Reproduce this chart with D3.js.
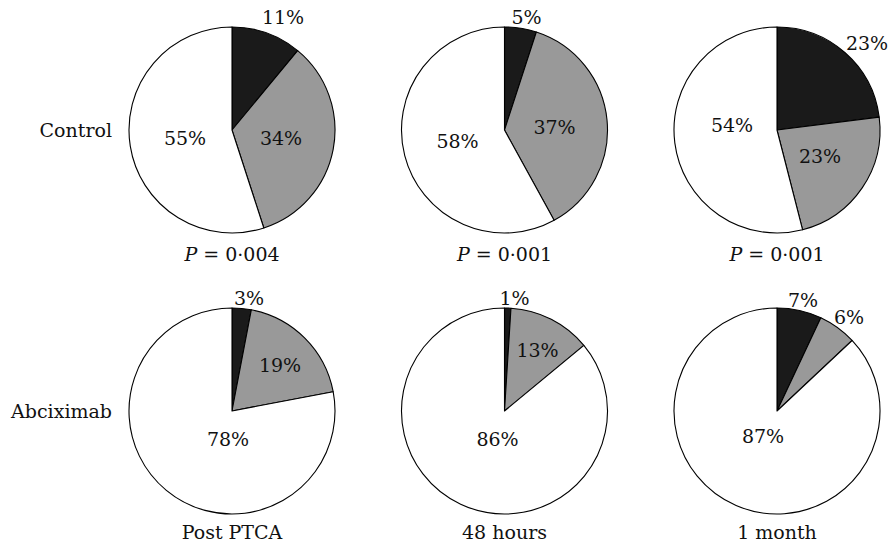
<!DOCTYPE html>
<html>
<head>
<meta charset="utf-8">
<script src="https://cdn.jsdelivr.net/npm/d3@7/dist/d3.min.js"></script>
<style>
  html, body { margin: 0; padding: 0; background: #fff; }
  svg { display: block; }
  text { font-family: "DejaVu Serif", "Liberation Serif", serif; fill: #111; }
</style>
</head>
<body>
<svg id="chart" width="888" height="547"></svg>
<script>
// Groups (rows) and time points (columns)
const groups = ["Control", "Abciximab"];
const timePoints = ["Post PTCA", "48 hours", "1 month"];

// Percentages per panel, clockwise from 12 o'clock: black, grey, white
const controlShares   = [[11, 34, 55], [5, 37, 58], [23, 23, 54]];
const abciximabShares = [[3, 19, 78], [1, 13, 86], [7, 6, 87]];

// P values shown under the control row
const pValues = ["0·004", "0·001", "0·001"];

const sliceColors = ["#1a1a1a", "#999999", "#ffffff"];

// Where each percentage label sits, as an offset (px) from its pie's centre
const labelOffsets = [
  [[[51, -113], [49, 8], [-47, 8]],
   [[22, -113], [50, -3], [-47, 11]],
   [[90, -87], [43, 26], [-45, -5]]],
  [[[17, -113], [48, -46], [-4, 28]],
   [[10, -113], [33, -61], [-7, 28]],
   [[26, -111], [72, -94], [-14, 25]]]
];

const svg = d3.select("#chart");
const fontSize = 19;
const radius = 103;

const x = d3.scalePoint().domain(timePoints).range([232, 777]);
const y = d3.scalePoint().domain(groups).range([130, 411]);

const pie = d3.pie().sort(null).value(d => d);
const arc = d3.arc().innerRadius(0).outerRadius(radius);

const sharesByGroup = [controlShares, abciximabShares];

groups.forEach((g, gi) => {
  // Row label
  svg.append("text")
    .attr("x", 112)
    .attr("y", y(g) + 7)
    .attr("text-anchor", "end")
    .attr("font-size", fontSize)
    .text(g);

  timePoints.forEach((t, ti) => {
    const cx = x(t), cy = y(g);
    const panel = svg.append("g").attr("transform", `translate(${cx},${cy})`);
    const arcs = pie(sharesByGroup[gi][ti]);

    panel.selectAll("path")
      .data(arcs)
      .join("path")
      .attr("d", arc)
      .attr("fill", (d, i) => sliceColors[i])
      .attr("stroke", "#000")
      .attr("stroke-width", 1.1)
      .attr("stroke-linejoin", "round");

    panel.selectAll("text.pct")
      .data(arcs)
      .join("text")
      .attr("class", "pct")
      .attr("x", (d, i) => labelOffsets[gi][ti][i][0])
      .attr("y", (d, i) => labelOffsets[gi][ti][i][1] + 7)
      .attr("text-anchor", "middle")
      .attr("font-size", fontSize)
      .text(d => d.data + "%");
  });
});

// P values beneath the control pies
timePoints.forEach((t, ti) => {
  const txt = svg.append("text")
    .attr("x", x(t))
    .attr("y", 261)
    .attr("text-anchor", "middle")
    .attr("font-size", fontSize);
  txt.append("tspan").attr("font-style", "italic").text("P");
  txt.append("tspan").text(" = " + pValues[ti]);
});

// Time-point captions along the bottom
svg.selectAll("text.caption")
  .data(timePoints)
  .join("text")
  .attr("class", "caption")
  .attr("x", d => x(d))
  .attr("y", 539)
  .attr("text-anchor", "middle")
  .attr("font-size", fontSize)
  .text(d => d);
</script>
</body>
</html>
